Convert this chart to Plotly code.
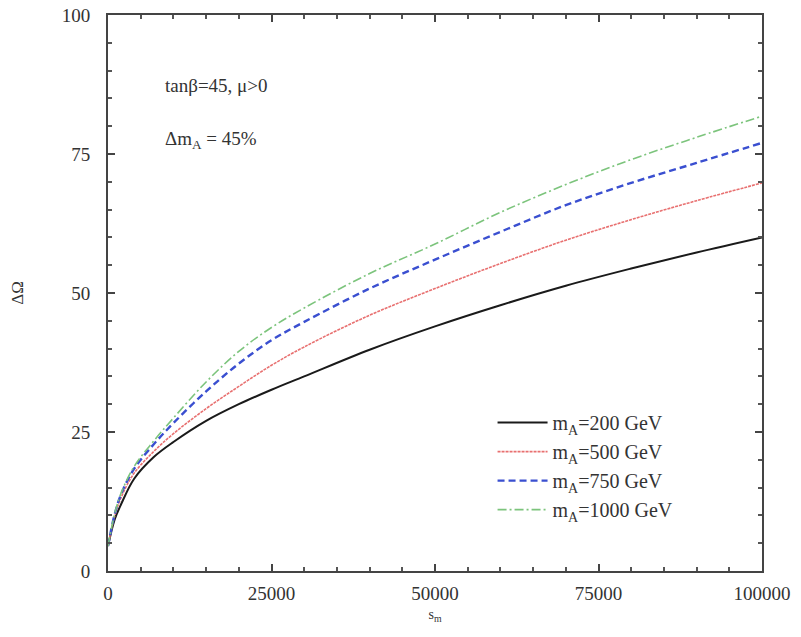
import plotly.graph_objects as go

x_vals = [0, 1000, 2000, 4000, 7000, 10000, 15000, 20000, 25000, 30000, 40000, 50000, 60000, 70000, 80000, 90000, 100000]
y_200 = [4.5, 9.2, 12.0, 16.6, 20.5, 23.2, 27.0, 30.0, 32.6, 35.0, 39.8, 44.0, 47.8, 51.3, 54.4, 57.3, 60.0]
y_500 = [4.5, 9.8, 13.2, 17.6, 21.5, 24.7, 29.2, 33.2, 37.0, 40.3, 46.0, 50.8, 55.3, 59.5, 63.2, 66.6, 69.8]
y_750 = [4.5, 10.1, 13.8, 18.4, 22.8, 26.6, 32.3, 37.3, 41.5, 44.8, 50.8, 56.0, 61.0, 65.8, 69.8, 73.4, 77.0]
y_1000 = [4.5, 10.2, 14.0, 18.8, 23.4, 27.5, 34.0, 39.5, 43.8, 47.3, 53.5, 58.8, 64.5, 69.5, 74.0, 78.0, 81.8]

series_names = ["m<sub>A</sub>=200 GeV", "m<sub>A</sub>=500 GeV", "m<sub>A</sub>=750 GeV", "m<sub>A</sub>=1000 GeV"]
x_ticks = [0, 25000, 50000, 75000, 100000]
x_tick_labels = ["0", "25000", "50000", "75000", "100000"]
y_ticks = [0, 25, 50, 75, 100]

FONT = "Liberation Serif"
TXT = "#333333"
styles = [
    dict(color="#1a1a1a", width=2, dash="solid"),
    dict(color="#e87070", width=1.6, dash="3px,1px"),
    dict(color="#3a4fd0", width=2.4, dash="7px,4px"),
    dict(color="#7cc47c", width=1.6, dash="9px,3px,2px,3px"),
]

fig = go.Figure()
for name, ys, st in zip(series_names, [y_200, y_500, y_750, y_1000], styles):
    fig.add_trace(go.Scatter(x=x_vals, y=ys, mode="lines", name=name,
                             line=dict(shape="spline", smoothing=1.0, **st)))

axis_common = dict(
    showgrid=False, zeroline=False, showline=True, linecolor="#444444", linewidth=2,
    mirror="allticks", ticks="inside", ticklen=7, tickcolor="#444444", tickwidth=1.5,
    tickfont=dict(family=FONT, size=19, color=TXT), automargin=False,
)

fig.update_xaxes(range=[0, 100000], tickvals=x_ticks, ticktext=x_tick_labels,
                 ticklabelstandoff=4,
                 minor=dict(dtick=5000, ticks="inside", ticklen=4, tickcolor="#555555"),
                 title=dict(text="s<sub>m</sub>", font=dict(family=FONT, size=14, color=TXT), standoff=6),
                 **axis_common)
fig.update_yaxes(range=[0, 100], tickvals=y_ticks,
                 ticklabelstandoff=12,
                 minor=dict(dtick=5, ticks="inside", ticklen=4, tickcolor="#555555"),
                 title=dict(text="ΔΩ", font=dict(family=FONT, size=17, color=TXT), standoff=34),
                 **axis_common)

fig.add_annotation(x=0.084, y=0.874, xref="paper", yref="paper", xanchor="left", yanchor="middle",
                   text="tanβ=45, μ>0", showarrow=False, font=dict(family=FONT, size=19, color=TXT))
fig.add_annotation(x=0.084, y=0.776, xref="paper", yref="paper", xanchor="left", yanchor="middle",
                   text="Δm<sub>A</sub> = 45%", showarrow=False, font=dict(family=FONT, size=19, color=TXT))

fig.update_layout(
    width=801, height=637,
    margin=dict(l=108, r=39, t=15, b=66),
    paper_bgcolor="white", plot_bgcolor="white",
    showlegend=True,
    legend=dict(x=0.588, y=0.302, xanchor="left", yanchor="top", bgcolor="rgba(0,0,0,0)",
                font=dict(family=FONT, size=20, color=TXT), itemwidth=50, tracegroupgap=0),
    font=dict(family=FONT),
)

fig.write_html("out.html")
